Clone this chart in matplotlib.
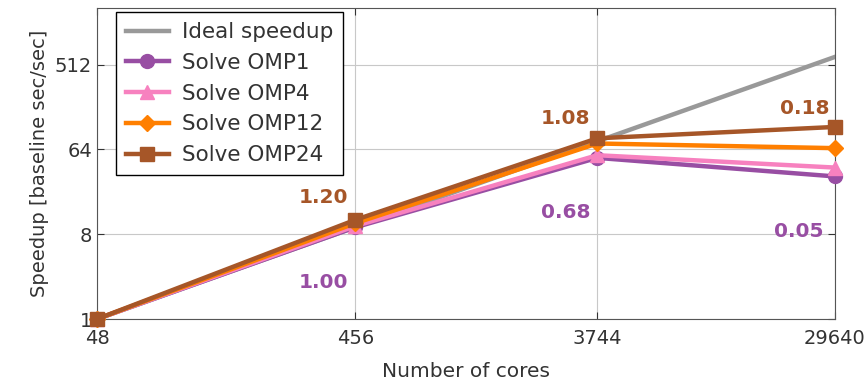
import matplotlib
matplotlib.use('Agg')
import matplotlib.pyplot as plt
import matplotlib.ticker as mticker

cores = [48, 456, 3744, 29640]
ideal = [1, 9.5, 78, 617.5]
omp1 = [1, 9.5, 52, 33]
omp4 = [1, 9.8, 55.5, 41]
omp12 = [1, 10.5, 74, 66]
omp24 = [1, 11.4, 84, 111]

# efficiency labels: (x, y of point, text, colour, offset px)
eff_labels = [
    (456, 11.4, '1.20', '#a65628', (-32, 22)),
    (456, 9.5, '1.00', '#984ea3', (-32, -55)),
    (3744, 84, '1.08', '#a65628', (-32, 20)),
    (3744, 52, '0.68', '#984ea3', (-32, -55)),
    (29640, 111, '0.18', '#a65628', (-30, 18)),
    (29640, 33, '0.05', '#984ea3', (-36, -55)),
]

plt.rcParams['font.family'] = ['DejaVu Sans']
fig = plt.figure(figsize=(8.66, 3.83), dpi=100)
ax = fig.add_axes([0.112, 0.167, 0.852, 0.812])

ax.plot(cores, ideal, color='#999999', lw=3.2, label='Ideal speedup', zorder=2)
series = [
    (omp1, '#984ea3', 'o', 'Solve OMP1'),
    (omp4, '#f781bf', '^', 'Solve OMP4'),
    (omp12, '#ff7f00', 'D', 'Solve OMP12'),
    (omp24, '#a65628', 's', 'Solve OMP24'),
]
for i, (ys, c, m, lab) in enumerate(series):
    ms = 8 if m == 'D' else 10
    ax.plot(cores, ys, color=c, marker=m, ms=ms, lw=3.2, label=lab,
            zorder=3 + i, clip_on=False)

for x, y, t, c, off in eff_labels:
    ax.annotate(t, (x, y), xytext=off, textcoords='offset pixels',
                ha='center', va='center', color=c, fontsize=14.5,
                fontweight='bold', zorder=10)

ax.set_xscale('log')
ax.set_yscale('log', base=2)
ax.set_xlim(48, 29640)
ax.set_ylim(1, 2048)
ax.xaxis.set_major_locator(mticker.FixedLocator(cores))
ax.xaxis.set_major_formatter(mticker.FixedFormatter([str(c) for c in cores]))
ax.xaxis.set_minor_locator(mticker.NullLocator())
ax.yaxis.set_major_locator(mticker.FixedLocator([1, 8, 64, 512]))
ax.yaxis.set_major_formatter(mticker.FixedFormatter(['1', '8', '64', '512']))
ax.yaxis.set_minor_locator(mticker.NullLocator())
ax.grid(True, color='#c8c8c8', lw=0.8)
ax.set_axisbelow(True)
ax.tick_params(direction='in', length=5, labelsize=14, top=True, right=True,
               colors='#333333')
ax.tick_params(axis='x', pad=7)
for s in ax.spines.values():
    s.set_color('#555555')

ax.set_xlabel('Number of cores', fontsize=14.5, color='#333333', labelpad=10)
ax.set_ylabel('Speedup [baseline sec/sec]', fontsize=14, color='#333333')

leg = ax.legend(loc='upper left', fontsize=15.5, fancybox=False, framealpha=1,
                edgecolor='black', handlelength=2.0, borderaxespad=0.2,
                labelspacing=0.5, borderpad=0.45, handletextpad=0.6,
                bbox_to_anchor=(0.02, 1.0))
leg.get_frame().set_linewidth(1.0)
for t in leg.get_texts():
    t.set_color('#333333')

fig.savefig('out.png', dpi=100)
